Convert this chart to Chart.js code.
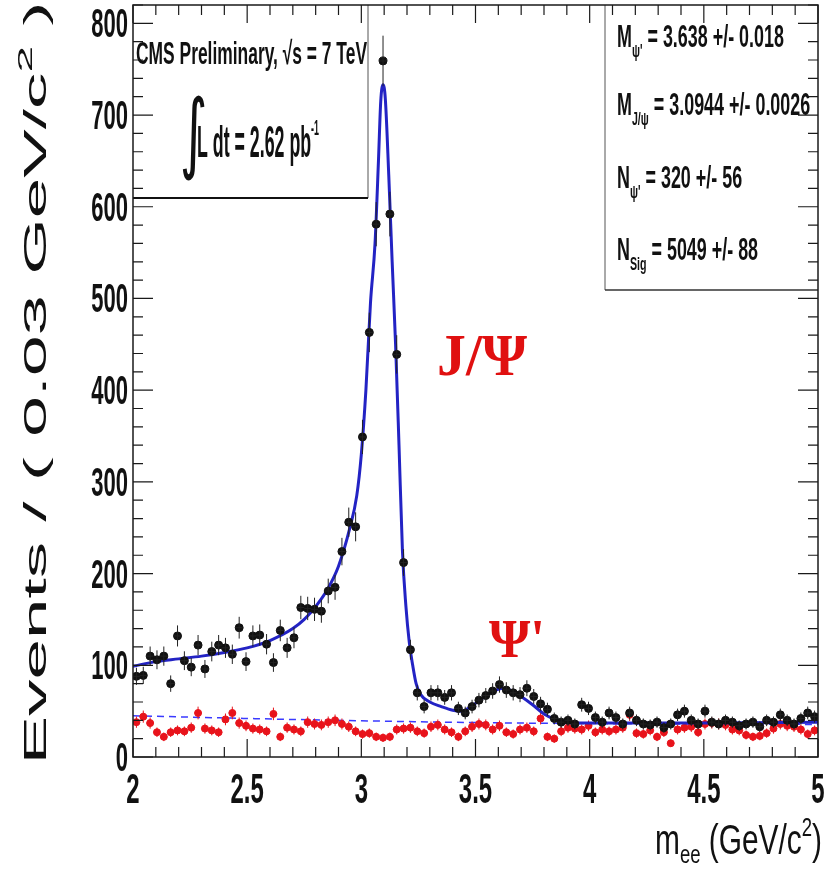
<!DOCTYPE html>
<html>
<head>
<meta charset="utf-8">
<title>Dielectron invariant mass</title>
<script src="https://cdn.jsdelivr.net/npm/chart.js@4.4.1/dist/chart.umd.min.js"></script>
<style>
  html, body { margin: 0; padding: 0; background: #fff; }
  #wrap { width: 827px; height: 874px; }
</style>
</head>
<body>
<div id="wrap"><canvas id="massChart" width="827" height="874"></canvas></div>
<script>
// 100 bins of 0.03 GeV/c^2 from 2 to 5
const binStart = 2.0;
const binWidth = 0.03;

// opposite-sign ee pairs per bin
const dataCounts = [
  88, 89, 110, 106, 110, 80, 132, 105, 98, 122,
  96, 115, 122, 119, 112, 141, 104, 132, 133, 123,
  103, 138, 119, 130, 163, 162, 161, 159, 181, 185,
  224, 256, 251, 349, 463, 581, 759, 592, 439, 212,
  117, 70, 55, 70, 70, 65, 70, 53, 48, 55,
  62, 67, 72, 79, 73, 70, 68, 75, 66, 58,
  52, 42, 38, 40, 36, 57, 53, 43, 38, 48,
  43, 36, 48, 40, 36, 35, 38, 32, 36, 46,
  50, 40, 36, 50, 38, 36, 40, 38, 34, 36,
  38, 33, 40, 38, 46, 40, 36, 42, 48, 44
];

// same-sign ee pairs per bin
const sameSignCounts = [
  38, 44, 37, 27, 22, 27, 29, 28, 32, 48,
  31, 29, 27, 41, 48, 37, 34, 31, 30, 28,
  47, 22, 32, 30, 28, 38, 36, 35, 38, 40,
  36, 33, 28, 25, 26, 22, 21, 22, 30, 31,
  32, 28, 26, 33, 35, 30, 27, 22, 28, 33,
  36, 35, 30, 34, 27, 25, 30, 32, 28, 42,
  22, 20, 28, 32, 31, 30, 34, 27, 30, 28,
  30, 32, 46, 26, 25, 29, 22, 27, 15, 30,
  32, 33, 27, 36, 37, 36, 35, 30, 29, 24,
  22, 23, 26, 31, 36, 34, 33, 30, 25, 29
];

// total fit (signal + background)
const fitMass = [2.0, 2.1, 2.2, 2.3, 2.4, 2.5, 2.6, 2.7, 2.75, 2.8,
  2.85, 2.9, 2.95, 2.98, 3.0, 3.02, 3.04, 3.06, 3.075, 3.085,
  3.095, 3.105, 3.12, 3.135, 3.15, 3.165, 3.18, 3.195, 3.21, 3.225,
  3.24, 3.26, 3.3, 3.35, 3.4, 3.44, 3.48, 3.53, 3.58, 3.62,
  3.66, 3.7, 3.75, 3.8, 3.85, 3.9, 4.0, 4.5, 5.0];
const fitEvents = [99, 104, 107, 110, 114, 119, 127, 140, 150, 164,
  182, 208, 250, 285, 330, 400, 495, 560, 650, 715,
  733, 718, 635, 540, 450, 340, 225, 165, 125, 100,
  80, 68, 60, 55, 51, 50, 55, 64, 72, 75,
  72, 66, 57, 47, 41, 38, 37, 37, 38];

// background component of the fit
const bkgMass = [2.0, 2.5, 3.0, 3.5, 4.0, 5.0];
const bkgEvents = [45, 42, 39.5, 37.5, 36.5, 35.5];

const xTickValues = [2, 2.5, 3, 3.5, 4, 4.5, 5];
const xTickLabels = ['2', '2.5', '3', '3.5', '4', '4.5', '5'];
const yTickValues = [0, 100, 200, 300, 400, 500, 600, 700, 800];
const yTickLabels = ['0', '100', '200', '300', '400', '500', '600', '700', '800'];

const SANS = '"Liberation Sans", Arial, Helvetica, sans-serif';
const SERIF = '"Liberation Serif", "Times New Roman", serif';

const binCenters = dataCounts.map((_, i) => +(binStart + binWidth * (i + 0.5)).toFixed(3));
const toPoints = (xs, ys) => xs.map((x, i) => ({ x: x, y: ys[i] }));

// text with sub/superscripts, squeezed horizontally like the ROOT output
function drawRich(ctx, parts, x, y, o) {
  const family = o.family || SANS;
  const weight = o.weight || 'normal';
  ctx.save();
  ctx.fillStyle = o.color || '#111';
  ctx.textBaseline = 'alphabetic';
  ctx.textAlign = 'left';
  let w = 0;
  parts.forEach(p => {
    ctx.font = weight + ' ' + p.size + 'px ' + family;
    p.w = ctx.measureText(p.t).width;
    w += p.w;
  });
  const sx = o.width ? o.width / w : (o.sx || 1);
  ctx.translate(x, y);
  if (o.rotate) ctx.rotate(o.rotate);
  ctx.scale(sx, 1);
  let cx = o.align === 'right' ? -w : o.align === 'center' ? -w / 2 : 0;
  parts.forEach(p => {
    ctx.font = weight + ' ' + p.size + 'px ' + family;
    ctx.fillText(p.t, cx, p.dy || 0);
    cx += p.w;
  });
  ctx.restore();
}

const errorBars = {
  id: 'errorBars',
  afterDatasetDraw(chart, args) {
    const ds = chart.data.datasets[args.index];
    if (!ds.errorColor) return;
    const { ctx, scales: { x, y } } = chart;
    ctx.save();
    ctx.strokeStyle = ds.errorColor;
    ctx.lineWidth = 1;
    ds.data.forEach(p => {
      const err = Math.sqrt(p.y);
      const px = x.getPixelForValue(p.x);
      const py = y.getPixelForValue(p.y);
      ctx.beginPath();
      ctx.moveTo(px, y.getPixelForValue(p.y - err));
      ctx.lineTo(px, y.getPixelForValue(p.y + err));
      ctx.moveTo(x.getPixelForValue(p.x - binWidth / 2), py);
      ctx.lineTo(x.getPixelForValue(p.x + binWidth / 2), py);
      ctx.stroke();
    });
    ctx.restore();
  }
};

const frameAndText = {
  id: 'frameAndText',
  afterDraw(chart) {
    const { ctx, chartArea: a, scales: { x, y } } = chart;
    ctx.save();

    // info boxes
    ctx.strokeStyle = '#555';
    ctx.lineWidth = 1;
    ctx.beginPath();
    ctx.moveTo(368, a.top); ctx.lineTo(368, 198);
    ctx.moveTo(605, a.top); ctx.lineTo(605, 290);
    ctx.stroke();
    ctx.strokeStyle = '#111';
    ctx.lineWidth = 2;
    ctx.beginPath();
    ctx.moveTo(a.left, 198); ctx.lineTo(368, 198);
    ctx.stroke();
    ctx.lineWidth = 1.5;
    ctx.strokeStyle = '#333';
    ctx.beginPath();
    ctx.moveTo(605, 290); ctx.lineTo(a.right, 290);
    ctx.stroke();

    // frame
    ctx.strokeStyle = '#1a1a1a';
    ctx.lineWidth = 1.5;
    ctx.strokeRect(a.left, a.top, a.right - a.left, a.bottom - a.top);

    // inward ticks on all four sides
    ctx.lineWidth = 1.2;
    ctx.beginPath();
    for (let k = 0; k <= 30; k++) {
      const px = x.getPixelForValue(2 + k * 0.1);
      const len = k % 5 === 0 ? 18 : 10;
      ctx.moveTo(px, a.bottom); ctx.lineTo(px, a.bottom - len);
      ctx.moveTo(px, a.top); ctx.lineTo(px, a.top + len);
    }
    for (let k = 0; k * 20 <= y.max; k++) {
      const py = y.getPixelForValue(k * 20);
      const len = k % 5 === 0 ? 20 : 10;
      ctx.moveTo(a.left, py); ctx.lineTo(a.left + len, py);
      ctx.moveTo(a.right, py); ctx.lineTo(a.right - len, py);
    }
    ctx.stroke();
    ctx.restore();

    // tick labels
    yTickValues.forEach((v, i) => {
      drawRich(ctx, [{ t: yTickLabels[i], size: 40 }], 128, y.getPixelForValue(v) + 14, { align: 'right', sx: 0.55, weight: 'bold' });
    });
    xTickValues.forEach((v, i) => {
      drawRich(ctx, [{ t: xTickLabels[i], size: 42 }], x.getPixelForValue(v), 803, { align: 'center', sx: 0.57, weight: 'bold' });
    });

    // axis titles
    drawRich(ctx, [
      { t: 'm', size: 42 }, { t: 'ee', size: 26, dy: 9 },
      { t: ' (GeV/c', size: 42 }, { t: '2', size: 26, dy: -18 }, { t: ')', size: 42 }
    ], 822, 854, { align: 'right', width: 167 });
    drawRich(ctx, [
      { t: 'Events / ( 0.03 GeV/c', size: 32 }, { t: '2', size: 21, dy: -14 }, { t: ' )', size: 32 }
    ], 46, 383, { align: 'center', width: 763, rotate: -Math.PI / 2 });

    // experiment label
    drawRich(ctx, [{ t: 'CMS Preliminary, \u221As = 7 TeV', size: 32 }], 136, 64, { width: 231, weight: 'bold' });
    drawRich(ctx, [{ t: '\u222B', size: 88 }], 180, 162, { family: '"DejaVu Sans", sans-serif', sx: 0.6 });
    drawRich(ctx, [{ t: 'L dt = 2.62 pb', size: 44 }, { t: '-1', size: 22, dy: -22 }], 197, 157, { width: 122, weight: 'bold' });

    // fit results
    const fitLines = [
      [{ t: 'M', size: 32 }, { t: '\u03C8\'', size: 19, dy: 10 }, { t: ' = 3.638 +/- 0.018', size: 32 }],
      [{ t: 'M', size: 32 }, { t: 'J/\u03C8', size: 19, dy: 10 }, { t: ' = 3.0944 +/- 0.0026', size: 32 }],
      [{ t: 'N', size: 32 }, { t: '\u03C8\'', size: 19, dy: 10 }, { t: ' = 320 +/- 56', size: 32 }],
      [{ t: 'N', size: 32 }, { t: 'Sig', size: 19, dy: 10 }, { t: ' = 5049 +/- 88', size: 32 }]
    ];
    const fitBaselines = [47, 115, 188, 260];
    fitLines.forEach((parts, i) => drawRich(ctx, parts, 617, fitBaselines[i], { sx: 0.56, weight: 'bold' }));

    // resonance labels
    drawRich(ctx, [{ t: 'J/\u03A8', size: 60 }], 437, 375, { family: SERIF, weight: 'bold', color: '#e01010', width: 90 });
    drawRich(ctx, [{ t: '\u03A8\'', size: 54 }], 489, 657, { family: SERIF, weight: 'bold', color: '#e01010', width: 56 });
  }
};

new Chart(document.getElementById('massChart'), {
  type: 'scatter',
  data: {
    datasets: [
      {
        data: toPoints(binCenters, dataCounts),
        pointRadius: 4,
        pointBackgroundColor: '#111',
        pointBorderColor: '#111',
        errorColor: '#222',
        order: 0
      },
      {
        type: 'line',
        data: toPoints(fitMass, fitEvents),
        borderColor: '#2323c4',
        borderWidth: 3,
        pointRadius: 0,
        cubicInterpolationMode: 'monotone',
        fill: false,
        order: 1
      },
      {
        data: toPoints(binCenters, sameSignCounts),
        pointRadius: 3.5,
        pointBackgroundColor: '#e8141c',
        pointBorderColor: '#e8141c',
        errorColor: '#e8141c',
        order: 2
      },
      {
        type: 'line',
        data: toPoints(bkgMass, bkgEvents),
        borderColor: '#3a3aff',
        borderWidth: 1.5,
        borderDash: [7, 5],
        pointRadius: 0,
        cubicInterpolationMode: 'monotone',
        fill: false,
        order: 3
      }
    ]
  },
  options: {
    responsive: false,
    animation: false,
    layout: { padding: { left: 133, top: 5, right: 9, bottom: 117 } },
    plugins: { legend: { display: false }, tooltip: { enabled: false } },
    scales: {
      x: { type: 'linear', min: 2, max: 5, display: false },
      y: { type: 'linear', min: 0, max: 820, display: false }
    }
  },
  plugins: [errorBars, frameAndText]
});
</script>
</body>
</html>
